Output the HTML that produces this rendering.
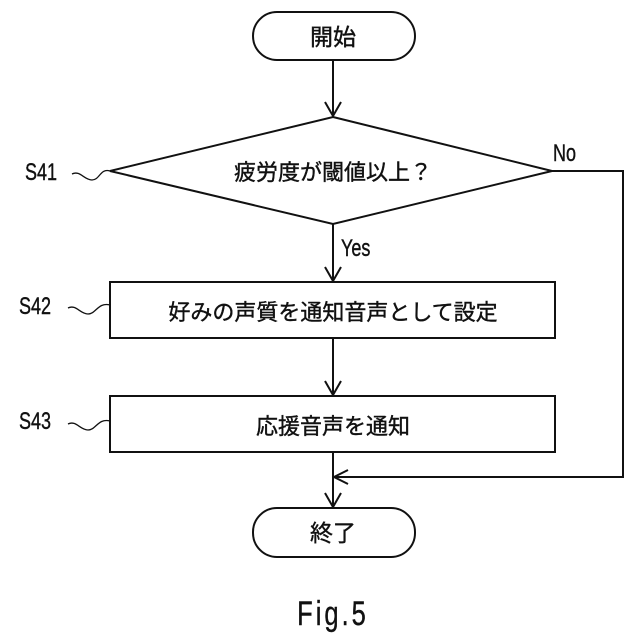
<!DOCTYPE html>
<html><head><meta charset="utf-8"><style>
html,body{margin:0;padding:0;background:#fff;}
svg{display:block;}
text{font-family:"Liberation Sans","Noto Sans CJK JP",sans-serif;fill:#111;}
</style></head><body>
<svg width="640" height="640" viewBox="0 0 640 640" xmlns="http://www.w3.org/2000/svg">
<g fill="none" stroke="#111" stroke-width="2">
<rect x="253" y="12" width="162" height="48" rx="24"/>
<polygon points="333,117 552,171 333,224 110,171"/>
<rect x="110" y="282" width="445" height="56"/>
<rect x="110" y="396" width="445" height="56"/>
<rect x="253" y="508" width="162" height="49" rx="24"/>
<line x1="333" y1="60" x2="333" y2="116"/>
<polyline points="325,102 333,116 341,102"/>
<line x1="333" y1="224" x2="333" y2="281"/>
<polyline points="325,267 333,281 341,267"/>
<line x1="333" y1="338" x2="333" y2="395"/>
<polyline points="325,381 333,395 341,381"/>
<line x1="333" y1="452" x2="333" y2="507"/>
<polyline points="325,493 333,507 341,493"/>
<polyline points="552,171 623,171 623,477 334,477"/>
<polyline points="348,470 334,477 348,484"/>
<g stroke-width="1.3">
<path d="M72,174 C80,170 84,180 92,180 C100,180 100,168 110,171"/>
<path d="M68,308 C76,304 80,314 88,314 C96,314 98,302 110,305"/>
<path d="M68,424 C76,420 80,430 88,430 C96,430 98,418 110,421"/>
</g>
</g>
<g stroke="#111" stroke-width="0.4">
<text x="333" y="45" font-size="23" text-anchor="middle">開始</text>
<text x="333" y="180" font-size="22" text-anchor="middle">疲労度が閾値以上？</text>
<text x="333" y="320" font-size="22" text-anchor="middle">好みの声質を通知音声として設定</text>
<text x="333" y="434" font-size="22" text-anchor="middle">応援音声を通知</text>
<text x="333" y="541" font-size="23" text-anchor="middle">終了</text>
<text x="341" y="256" font-size="24" transform="scale(0.75,1)" style="transform-origin:341px 256px">Yes</text>
<text x="553" y="161" font-size="24" transform="scale(0.75,1)" style="transform-origin:553px 161px">No</text>
<text x="25" y="180" font-size="24" transform="scale(0.75,1)" style="transform-origin:25px 180px">S41</text>
<text x="19" y="314" font-size="24" transform="scale(0.75,1)" style="transform-origin:19px 314px">S42</text>
<text x="19" y="429" font-size="24" transform="scale(0.75,1)" style="transform-origin:19px 429px">S43</text>
<text x="333" y="625" font-size="34" text-anchor="middle" letter-spacing="4" transform="scale(0.75,1)" style="transform-origin:333px 625px">Fig.5</text>
</g>
</svg>
</body></html>
